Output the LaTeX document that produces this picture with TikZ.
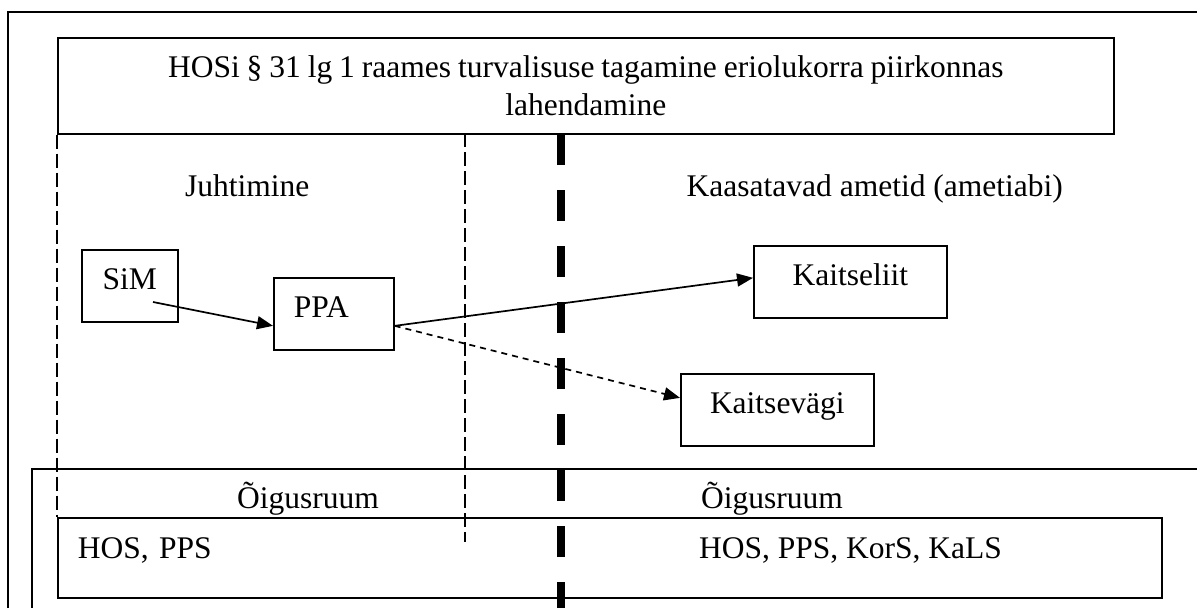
\documentclass[tikz,border=0pt]{standalone}
\usepackage{fontspec}
\setmainfont{Liberation Serif}
\usetikzlibrary{arrows.meta}

\begin{document}
\begin{tikzpicture}[x=1pt,y=-1pt,
  every node/.style={font=\fontsize{31.5}{38}\selectfont, inner sep=0pt},
  boxnode/.style={draw, line width=1.7pt, anchor=north west, text height=40pt, text depth=32pt, align=center},
  heading/.style={anchor=base west},
  arrowhead/.style={-{Triangle[length=16pt,width=13pt]}, line width=1.7pt},
  thindash/.style={line width=1.4pt, dash pattern=on 14pt off 5pt},
  thickdash/.style={line width=8pt, dash pattern=on 31pt off 25pt}]
\useasboundingbox (0,0) rectangle (1197,608);

% frames
\draw[line width=1.1pt] (8,608) -- (8,12) -- (1197,12);
\draw[line width=1.3pt] (1197,469) -- (32,469) -- (32,608);

\node[boxnode, text width=1056pt, text depth=56pt] (title) at (57,37)
  {\spaceskip=0.22em HOSi § 31 lg 1 raames turvalisuse tagamine eriolukorra piirkonnas\\lahendamine};

\node[heading] (juht) at (185,196) {Juhtimine};
\node[heading, anchor=base east] (kaas) at (1063,196) {Kaasatavad ametid (ametiabi)};

\node[boxnode, text width=96pt] (sim) at (81,249) {SiM};
\node[boxnode, text width=80pt, inner xsep=20pt, align=left] (ppa) at (273,277) {PPA};
\node[boxnode, text width=193pt] (kl) at (753,245) {Kaitseliit};
\node[boxnode, text width=193pt] (kv) at (680,373) {Kaitsevägi};

% oigusruum
\node[heading] (oigus1) at (237,508) {Õigusruum};
\node[heading] (oigus2) at (701,508) {Õigusruum};
\node[boxnode, text width=1064pt, inner xsep=20pt, align=left, text height=41pt, text depth=39pt] (hos) at (57,517) {HOS, PPS};
\node[heading] (hosright) at (699,558) {HOS, PPS, KorS, KaLS};

% arrows
\coordinate (simout) at (153,302);
\draw[arrowhead] (simout) -- ([yshift=-12pt]ppa.west);
\draw[arrowhead] ([yshift=-12pt]ppa.east) -- ([yshift=4pt]kl.west);
\draw[arrowhead, dash pattern=on 6pt off 5pt] ([yshift=-12pt]ppa.east) -- ([yshift=12pt]kv.west);

% dividers
\draw[thindash] (title.south west) -- (hos.north west);
\draw[thindash] (465,133) -- (465,542);
\draw[thickdash] (561,134) -- (561,608);
\end{tikzpicture}
\end{document}
